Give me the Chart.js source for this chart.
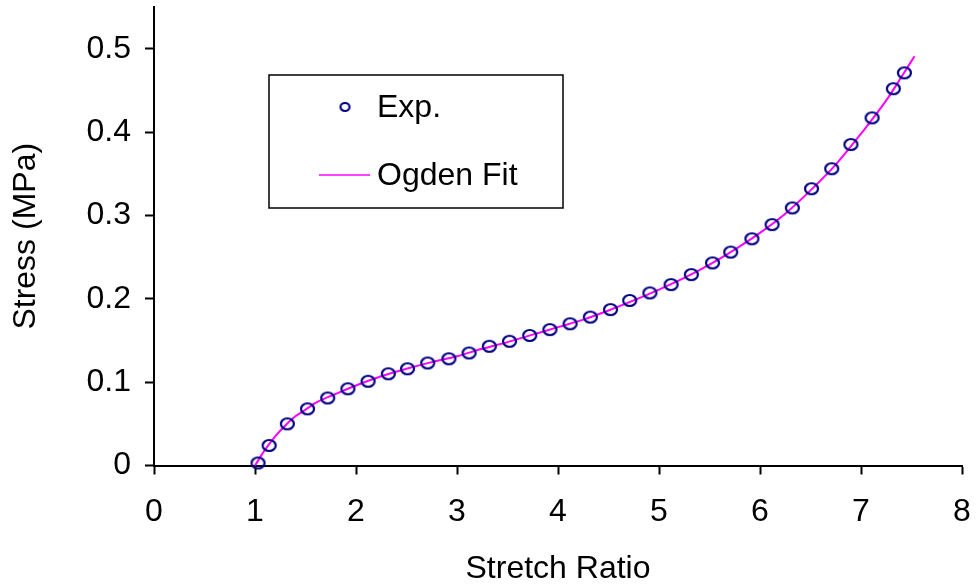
<!DOCTYPE html>
<html>
<head>
<meta charset="utf-8">
<title>Stress vs Stretch Ratio</title>
<script src="https://cdn.jsdelivr.net/npm/chart.js@4.4.1/dist/chart.umd.min.js"></script>
<style>
  html, body { margin: 0; padding: 0; background: #fff; }
  #wrap { width: 976px; height: 584px; }
</style>
</head>
<body>
<div id="wrap"><canvas id="stressChart" width="976" height="584"></canvas></div>
<script>
// experimental points
const expStretch = [1.03, 1.14, 1.32, 1.52, 1.72, 1.92, 2.12, 2.32, 2.51, 2.71,
    2.92, 3.12, 3.32, 3.52, 3.72, 3.92, 4.12, 4.32, 4.52, 4.71,
    4.91, 5.12, 5.32, 5.53, 5.71, 5.92, 6.12, 6.32, 6.51, 6.71,
    6.90, 7.11, 7.32, 7.43];
const expStress = [0.003, 0.024, 0.050, 0.068, 0.081, 0.092, 0.101, 0.110, 0.116, 0.123,
    0.128, 0.135, 0.143, 0.149, 0.156, 0.163, 0.170, 0.178, 0.187, 0.198,
    0.207, 0.217, 0.229, 0.243, 0.256, 0.272, 0.289, 0.309, 0.332, 0.356,
    0.385, 0.417, 0.452, 0.471];

// Ogden model curve
const fitStretch = [1.0, 1.1, 1.2, 1.3, 1.4, 1.5, 1.6, 1.8, 2.0, 2.25,
    2.5, 2.75, 3.0, 3.25, 3.5, 3.75, 4.0, 4.25, 4.5, 4.75,
    5.0, 5.25, 5.5, 5.75, 6.0, 6.25, 6.5, 6.75, 7.0, 7.25, 7.4, 7.53];
const fitStress = [0.000, 0.019, 0.035, 0.048, 0.059, 0.067, 0.075, 0.086, 0.096, 0.107,
    0.116, 0.124, 0.131, 0.140, 0.148, 0.157, 0.166, 0.175, 0.186, 0.198,
    0.211, 0.225, 0.241, 0.259, 0.279, 0.302, 0.330, 0.361, 0.398, 0.438, 0.466, 0.491];

const xTicks = [0, 1, 2, 3, 4, 5, 6, 7, 8];
const yTicks = [0, 0.1, 0.2, 0.3, 0.4, 0.5];

const FONT = 'Liberation Sans, Arial, sans-serif';
const FONT_SIZE = 32;
const NAVY = '#000080';
const MAGENTA = '#FF00FF';

function toPoints(xs, ys) {
    return xs.map((x, i) => ({ x: x, y: ys[i] }));
}

// hollow oval marker, a bit wider than tall
function ovalMarker(rx, ry) {
    const c = document.createElement('canvas');
    c.width = Math.ceil(rx * 2 + 4);
    c.height = Math.ceil(ry * 2 + 4);
    const g = c.getContext('2d');
    g.beginPath();
    g.ellipse(c.width / 2, c.height / 2, rx, ry, 0, 0, Math.PI * 2);
    g.strokeStyle = NAVY;
    g.lineWidth = 2.2;
    g.stroke();
    return c;
}

const expMarker = ovalMarker(6.5, 5.5);
const legendMarker = ovalMarker(4.5, 4);

// boxed legend sitting inside the plot area
const boxLegend = {
    id: 'boxLegend',
    afterDraw(chart) {
        const ctx = chart.ctx;
        const area = chart.chartArea;
        const left = area.left + 115;
        const top = 75;
        const w = 294;
        const h = 133;
        ctx.save();
        ctx.fillStyle = '#fff';
        ctx.fillRect(left, top, w, h);
        ctx.strokeStyle = '#000';
        ctx.lineWidth = 1.5;
        ctx.strokeRect(left, top, w, h);

        ctx.font = FONT_SIZE + 'px ' + FONT;
        ctx.fillStyle = '#000';
        ctx.textBaseline = 'middle';

        // Exp. marker
        ctx.drawImage(legendMarker, left + 76 - legendMarker.width / 2, top + 32 - legendMarker.height / 2);
        ctx.fillText(chart.data.datasets[0].label, left + 108, top + 33);

        // fit line sample
        ctx.beginPath();
        ctx.moveTo(left + 50, top + 100);
        ctx.lineTo(left + 101, top + 100);
        ctx.strokeStyle = MAGENTA;
        ctx.lineWidth = 1.5;
        ctx.stroke();
        ctx.fillText(chart.data.datasets[1].label, left + 108, top + 101);
        ctx.restore();
    }
};

const ctx = document.getElementById('stressChart').getContext('2d');
const chart = new Chart(ctx, {
    type: 'scatter',
    data: {
        datasets: [{
            label: 'Exp.',
            data: toPoints(expStretch, expStress),
            showLine: false,
            pointStyle: expMarker,
            pointRadius: 6,
            clip: false,
            order: 0
        }, {
            label: 'Ogden Fit',
            data: toPoints(fitStretch, fitStress),
            showLine: true,
            borderColor: MAGENTA,
            borderWidth: 2,
            pointRadius: 0,
            cubicInterpolationMode: 'monotone',
            clip: false,
            order: 1
        }]
    },
    options: {
        responsive: false,
        animation: false,
        layout: { padding: { left: 0, right: 14, top: 0, bottom: 0 } },
        plugins: {
            legend: { display: false },
            tooltip: { enabled: false }
        },
        scales: {
            x: {
                type: 'linear',
                min: 0,
                max: 8,
                afterBuildTicks: s => { s.ticks = xTicks.map(v => ({ value: v })); },
                afterFit: s => {
                    s.height = 118.5;
                    s.paddingLeft = 0;
                    s.paddingRight = 0;
                },
                ticks: {
                    color: '#000',
                    font: { family: FONT, size: FONT_SIZE },
                    padding: 18,
                    maxRotation: 0
                },
                grid: {
                    drawOnChartArea: false,
                    tickLength: 9,
                    tickWidth: 2,
                    tickColor: '#000'
                },
                border: { color: '#000', width: 2 },
                title: {
                    display: true,
                    text: 'Stretch Ratio',
                    color: '#000',
                    font: { family: FONT, size: FONT_SIZE },
                    padding: { top: 0, bottom: -4 }
                }
            },
            y: {
                type: 'linear',
                min: 0,
                max: 0.55,
                afterBuildTicks: s => { s.ticks = yTicks.map(v => ({ value: v })); },
                afterFit: s => {
                    s.width = 154;
                    s.paddingTop = 0;
                    s.paddingBottom = 0;
                },
                ticks: {
                    color: '#000',
                    font: { family: FONT, size: FONT_SIZE },
                    padding: 14,
                    callback: v => String(+v.toFixed(1))
                },
                grid: {
                    drawOnChartArea: false,
                    tickLength: 9,
                    tickWidth: 2,
                    tickColor: '#000'
                },
                border: { color: '#000', width: 2 },
                title: {
                    display: true,
                    text: 'Stress (MPa)',
                    color: '#000',
                    font: { family: FONT, size: FONT_SIZE },
                    padding: { top: 7, bottom: 0 }
                }
            }
        }
    },
    plugins: [boxLegend]
});
</script>
</body>
</html>
